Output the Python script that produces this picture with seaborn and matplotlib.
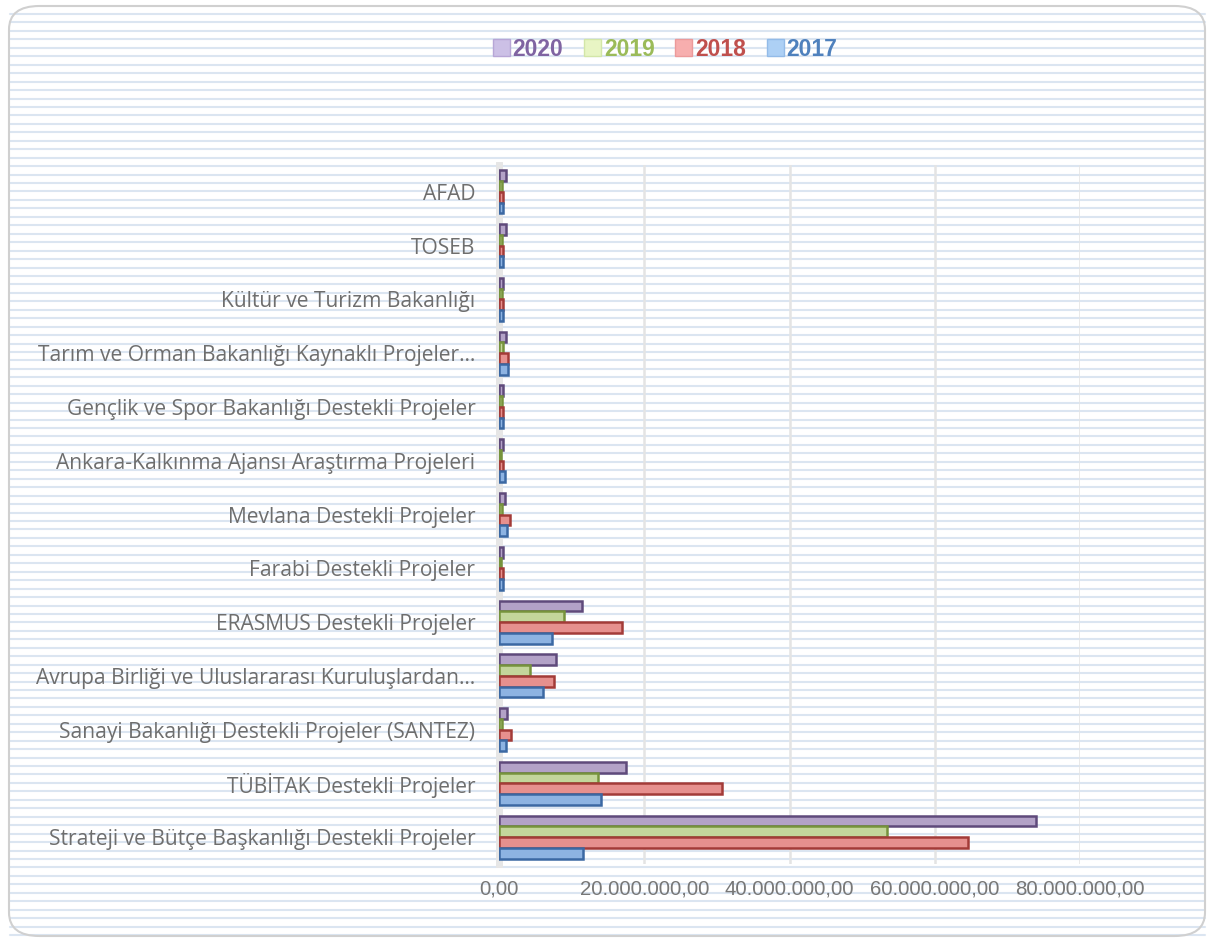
import numpy as np
import pandas as pd
import matplotlib
matplotlib.use("Agg")
import matplotlib.pyplot as plt
import seaborn as sns
from matplotlib.patches import FancyBboxPatch, Patch
from matplotlib.lines import Line2D
from matplotlib.ticker import FuncFormatter

categories = [
    "AFAD",
    "TOSEB",
    "Kültür ve Turizm Bakanlığı",
    "Tarım ve Orman Bakanlığı Kaynaklı Projeler…",
    "Gençlik ve Spor Bakanlığı Destekli Projeler",
    "Ankara-Kalkınma Ajansı Araştırma Projeleri",
    "Mevlana Destekli Projeler",
    "Farabi Destekli Projeler",
    "ERASMUS Destekli Projeler",
    "Avrupa Birliği ve Uluslararası Kuruluşlardan…",
    "Sanayi Bakanlığı Destekli Projeler (SANTEZ)",
    "TÜBİTAK Destekli Projeler",
    "Strateji ve Bütçe Başkanlığı Destekli Projeler",
]
years = ["2020", "2019", "2018", "2017"]

v2020 = [0.9e6, 1.0e6, 0.6e6, 1.0e6, 0.5e6, 0.5e6, 0.8e6, 0.5e6, 11.4e6, 7.9e6, 1.1e6, 17.5e6, 73.9e6]
v2019 = [0.4e6, 0.4e6, 0.4e6, 0.5e6, 0.4e6, 0.3e6, 0.4e6, 0.3e6, 9.0e6, 4.2e6, 0.4e6, 13.6e6, 53.4e6]
v2018 = [0.5e6, 0.5e6, 0.5e6, 1.3e6, 0.6e6, 0.5e6, 1.5e6, 0.5e6, 16.9e6, 7.6e6, 1.6e6, 30.7e6, 64.6e6]
v2017 = [0.5e6, 0.6e6, 0.5e6, 1.2e6, 0.5e6, 0.8e6, 1.1e6, 0.5e6, 7.3e6, 6.1e6, 1.0e6, 14.1e6, 11.5e6]

xticks = [0, 20e6, 40e6, 60e6, 80e6]

face_colors = {"2020": "#b3a2c7", "2019": "#c3d69b", "2018": "#e6908e", "2017": "#8db3e2"}
edge_colors = {"2020": "#5f4a7b", "2019": "#76933c", "2018": "#a33b38", "2017": "#3b68a3"}
text_colors = {"2020": "#8064a2", "2019": "#9bbb59", "2018": "#c0504d", "2017": "#4f81bd"}
legend_fill = {"2020": "#ccc0e6", "2019": "#e8f5c4", "2018": "#f7aeae", "2017": "#add0f5"}
legend_edge = {"2020": "#b7a6d6", "2019": "#d3e6a8", "2018": "#ec9a9a", "2017": "#93bbe8"}

rows = []
for y, vals in zip(years, [v2020, v2019, v2018, v2017]):
    for c, v in zip(categories, vals):
        rows.append({"kurum": c, "deger": v, "yil": y})
df = pd.DataFrame(rows)

sns.set_theme(style="white")
plt.rcParams["font.family"] = ["Liberation Sans", "DejaVu Sans"]

W, H = 1215, 942
fig = plt.figure(figsize=(W / 100, H / 100), dpi=100)
fig.patch.set_facecolor("white")

# striped background
for yp in np.arange(14, 936, 8.45):
    fig.add_artist(Line2D([10 / W, 1205 / W], [1 - yp / H, 1 - yp / H],
                          transform=fig.transFigure, color="#dbe5f1", lw=1.5, zorder=0))
border = FancyBboxPatch((9 / W, 6 / H), 1196 / W, 930 / H,
                        boxstyle="round,pad=0,rounding_size=0.025",
                        transform=fig.transFigure, facecolor="none",
                        edgecolor="#d0d0d0", lw=1.5, zorder=1)
fig.add_artist(border)

ax = fig.add_axes([499 / W, 1 - 864 / H, (1080 - 499) / W, (864 - 165) / H])
ax.set_facecolor("none")

sns.barplot(data=df, y="kurum", x="deger", hue="yil", order=categories,
            hue_order=years, orient="h", palette=face_colors, width=0.8,
            ax=ax, legend=False, saturation=1)

for cont, y in zip(ax.containers, years):
    for bar in cont:
        bar.set_edgecolor(edge_colors[y])
        bar.set_linewidth(1.8)
        bar.set_zorder(3)

ax.set_xlim(0, 80e6)
ax.set_xticks(xticks)

def tr_fmt(v, pos):
    s = f"{v:,.2f}"
    return s.replace(",", "X").replace(".", ",").replace("X", ".")

ax.xaxis.set_major_formatter(FuncFormatter(tr_fmt))
ax.grid(axis="x", color="#e4e4e4", lw=1.8, zorder=0)
ax.set_axisbelow(True)
for s in ["top", "right", "bottom"]:
    ax.spines[s].set_visible(False)
ax.spines["left"].set_color("#e6e6e6")
ax.spines["left"].set_linewidth(5)
ax.set_xlabel("")
ax.set_ylabel("")
ax.tick_params(axis="x", length=0, pad=11, labelsize=14.7, labelcolor="#777777")
ax.tick_params(axis="y", length=0, pad=17, labelsize=15.1, labelcolor="#6e6e6e")
for lab in ax.get_yticklabels():
    lab.set_fontfamily(["Open Sans", "DejaVu Sans"])

handles = [Patch(facecolor=legend_fill[y], edgecolor=legend_edge[y], lw=1, label=y) for y in years]
leg = fig.legend(handles=handles, loc="center", bbox_to_anchor=(665 / W, 1 - 49 / H),
                 ncol=4, frameon=False, handlelength=0.75, handleheight=0.8,
                 handletextpad=0.12, columnspacing=0.9,
                 prop={"weight": "bold", "size": 16.5, "family": ["Liberation Sans", "DejaVu Sans"]})
for t, y in zip(leg.get_texts(), years):
    t.set_color(text_colors[y])

fig.savefig("out.png", dpi=100, facecolor="white")
